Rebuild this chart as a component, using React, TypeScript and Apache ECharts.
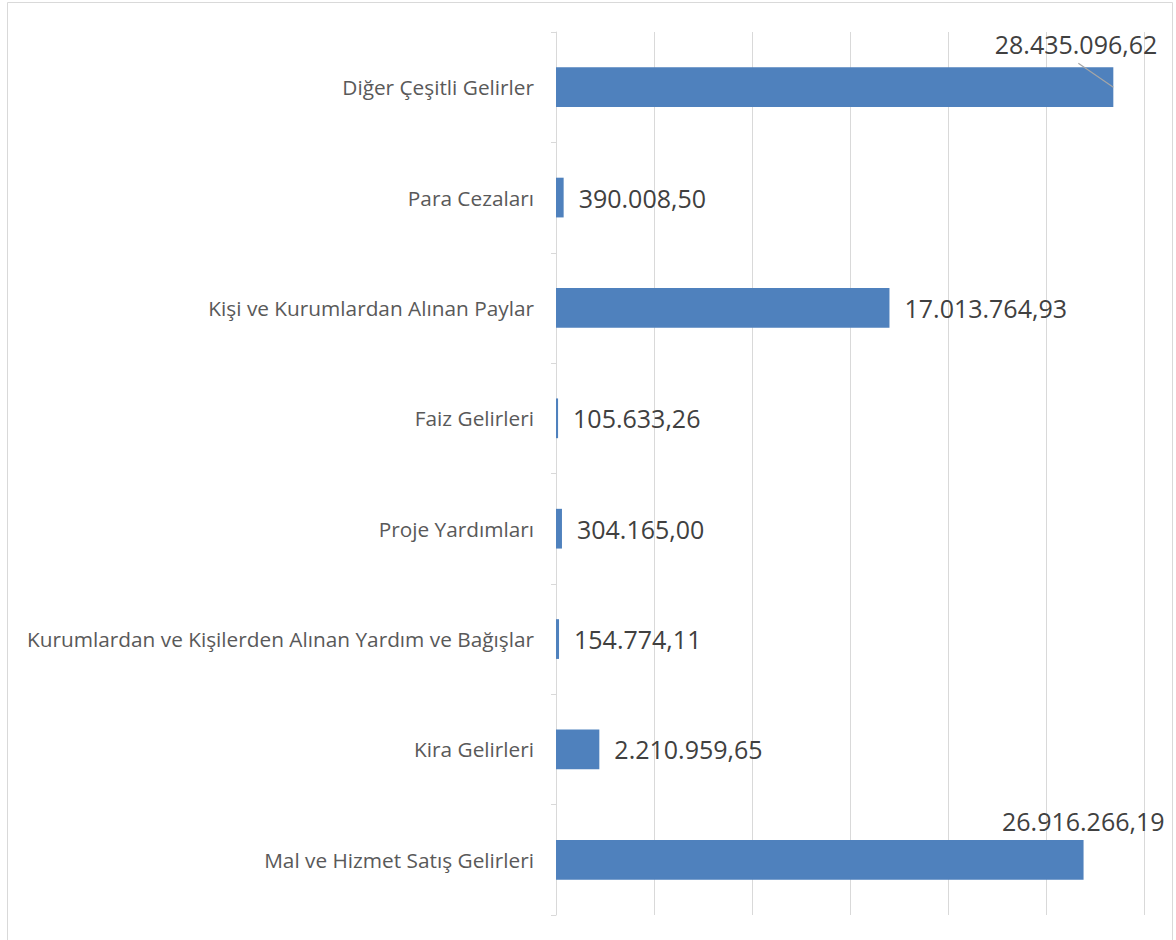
import React, { useEffect, useRef } from "react";
import * as echarts from "echarts";

const categories = [
  "Mal ve Hizmet Satış Gelirleri",
  "Kira Gelirleri",
  "Kurumlardan ve Kişilerden Alınan Yardım ve Bağışlar",
  "Proje Yardımları",
  "Faiz Gelirleri",
  "Kişi ve Kurumlardan Alınan Paylar",
  "Para Cezaları",
  "Diğer Çeşitli Gelirler",
];
const values = [
  26916266.19, 2210959.65, 154774.11, 304165.0, 105633.26, 17013764.93,
  390008.5, 28435096.62,
];
const valueLabels = [
  "26.916.266,19",
  "2.210.959,65",
  "154.774,11",
  "304.165,00",
  "105.633,26",
  "17.013.764,93",
  "390.008,50",
  "28.435.096,62",
];
const axisMax = 30000000;
const axisInterval = 5000000;

export default function App() {
  const ref = useRef<HTMLDivElement>(null);
  useEffect(() => {
    if (!ref.current) return;
    const chart = echarts.init(ref.current, undefined, { renderer: "svg" });
    const font = "'Open Sans', 'Noto Sans', sans-serif";
    const last = values.length - 1;
    chart.setOption({
      animation: false,
      backgroundColor: "#ffffff",
      grid: { left: 556, right: 32, top: 32, bottom: 25, containLabel: false },
      xAxis: {
        type: "value",
        min: 0,
        max: axisMax,
        interval: axisInterval,
        axisLabel: { show: false },
        axisLine: { show: false },
        axisTick: { show: false },
        splitLine: { show: true, lineStyle: { color: "#d9d9d9", width: 1 } },
      },
      yAxis: {
        type: "category",
        data: categories,
        axisLine: { show: true, lineStyle: { color: "#d9d9d9", width: 1 } },
        axisTick: { show: true, length: 5, lineStyle: { color: "#d9d9d9" } },
        axisLabel: {
          color: "#595959",
          fontFamily: font,
          fontSize: 20.8,
          margin: 22,
        },
      },
      series: [
        {
          type: "bar",
          barCategoryGap: "64%",
          itemStyle: { color: "#4f81bd" },
          data: values,
          label: {
            show: true,
            position: "right",
            distance: 15,
            color: "#404040",
            fontFamily: font,
            fontSize: 25,
            formatter: (p: any) => valueLabels[p.dataIndex],
          },
          labelLayout: (p: any) => {
            const r = p.rect;
            if (p.dataIndex === last) {
              return {
                x: r.x + r.width + 44,
                y: r.y - 23,
                align: "right",
                verticalAlign: "middle",
              };
            }
            if (p.dataIndex === 0) {
              return {
                x: r.x + r.width + 81,
                y: r.y - 19,
                align: "right",
                verticalAlign: "middle",
              };
            }
            return {};
          },
        },
      ],
    });
    const end = chart.convertToPixel({ gridIndex: 0 }, [
      values[last],
      categories[last],
    ]) as number[];
    chart.setOption({
      graphic: [
        {
          type: "rect",
          shape: { x: 7.5, y: 2.5, width: 1165, height: 945 },
          style: { fill: "none", stroke: "#d9d9d9", lineWidth: 1 },
          silent: true,
        },
        {
          type: "line",
          z: 100,
          shape: { x1: end[0] - 35, y1: end[1] - 24, x2: end[0], y2: end[1] },
          style: { stroke: "#a6a6a6", lineWidth: 1.2 },
          silent: true,
        },
      ],
    });
    return () => chart.dispose();
  }, []);
  return (
    <div
      ref={ref}
      style={{ position: "fixed", left: 0, top: 0, width: 1176, height: 940 }}
    />
  );
}
